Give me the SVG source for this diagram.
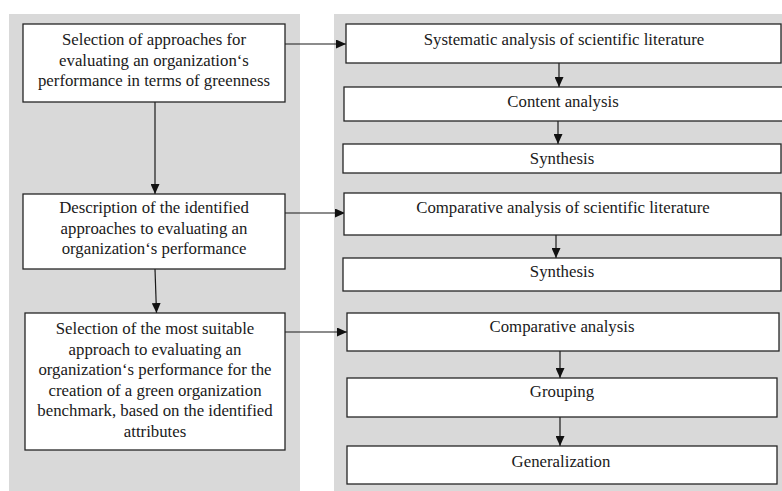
<svg xmlns="http://www.w3.org/2000/svg" width="782" height="491" viewBox="0 0 782 491">
<style>
.panel{fill:#d9d9d9;stroke:none}
.box{fill:#ffffff;stroke:#262626;stroke-width:1.3}
text{font-family:"Liberation Serif","DejaVu Serif",serif;font-size:16.8px;fill:#1a1a1a;text-anchor:middle}
.c{stroke:#1a1a1a;stroke-width:1.2;fill:none;marker-end:url(#ah)}
</style>
<defs>
<marker id="ah" markerUnits="userSpaceOnUse" viewBox="0 0 10 9" markerWidth="10" markerHeight="9" refX="10" refY="4.5" orient="auto">
<path d="M0,0 L10,4.5 L0,9 z" fill="#111"/>
</marker>
</defs>
<rect width="782" height="491" fill="#ffffff"/>
<rect class="panel" x="9" y="14" width="291" height="477"/>
<rect class="panel" x="334" y="14" width="448" height="477"/>

<g id="connectors">
<line class="c" x1="155" y1="102" x2="155" y2="194"/>
<line class="c" x1="155" y1="269" x2="156.5" y2="313"/>
<line class="c" x1="285" y1="44" x2="346" y2="44"/>
<line class="c" x1="285" y1="213" x2="345" y2="213"/>
<line class="c" x1="285" y1="332" x2="347" y2="332"/>
<line class="c" x1="559" y1="63" x2="559" y2="87"/>
<line class="c" x1="558" y1="121" x2="558" y2="144"/>
<line class="c" x1="556" y1="235" x2="556" y2="258"/>
<line class="c" x1="560" y1="351" x2="560" y2="378"/>
<line class="c" x1="560" y1="417" x2="560" y2="446"/>
</g>

<g id="left1">
<rect class="box" x="23" y="24" width="262" height="78"/>
<text x="154" y="45">Selection of approaches for</text>
<text x="154" y="66">evaluating an organization‘s</text>
<text x="154" y="86">performance in terms of greenness</text>
</g>
<g id="left2">
<rect class="box" x="23" y="194" width="262" height="75"/>
<text x="154" y="213">Description of the identified</text>
<text x="154" y="234">approaches to evaluating an</text>
<text x="154" y="254">organization‘s performance</text>
</g>
<g id="left3">
<rect class="box" x="25" y="313" width="260" height="137"/>
<text x="155" y="334">Selection of the most suitable</text>
<text x="155" y="354.6">approach to evaluating an</text>
<text x="155" y="375.2">organization‘s performance for the</text>
<text x="155" y="395.8">creation of a green organization</text>
<text x="155" y="416.4">benchmark, based on the identified</text>
<text x="155" y="437">attributes</text>
</g>

<g id="r1">
<rect class="box" x="346" y="24" width="435" height="39"/>
<text x="564" y="45">Systematic analysis of scientific literature</text>
</g>
<g id="r2">
<rect class="box" x="344" y="87" width="440" height="34"/>
<text x="563" y="107">Content analysis</text>
</g>
<g id="r3">
<rect class="box" x="343" y="144" width="438" height="29"/>
<text x="562" y="164">Synthesis</text>
</g>
<g id="r4">
<rect class="box" x="344" y="193" width="437" height="42"/>
<text x="563" y="213">Comparative analysis of scientific literature</text>
</g>
<g id="r5">
<rect class="box" x="343" y="258" width="438" height="33"/>
<text x="562" y="277">Synthesis</text>
</g>
<g id="r6">
<rect class="box" x="347" y="313" width="432" height="38"/>
<text x="562" y="332">Comparative analysis</text>
</g>
<g id="r7">
<rect class="box" x="347" y="378" width="430" height="39"/>
<text x="562" y="397">Grouping</text>
</g>
<g id="r8">
<rect class="box" x="347" y="446" width="430" height="38"/>
<text x="561" y="467">Generalization</text>
</g>
</svg>
